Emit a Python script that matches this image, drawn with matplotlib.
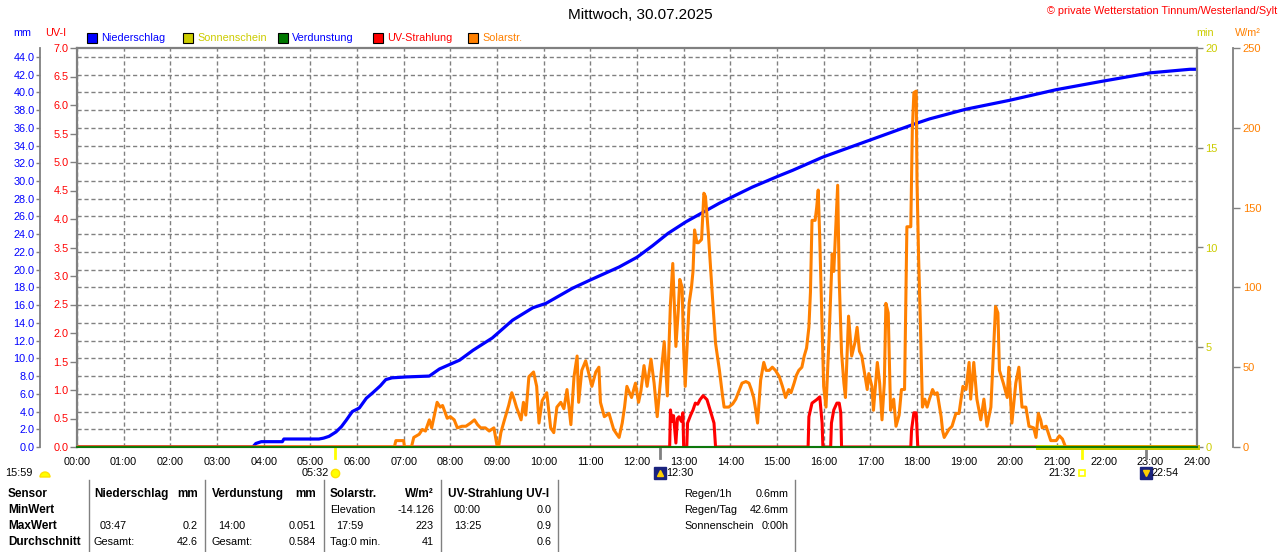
import matplotlib
matplotlib.use("Agg")
import matplotlib.pyplot as plt
import numpy as np
from matplotlib.patches import Rectangle, Wedge
from matplotlib.ticker import FormatStrFormatter

plt.rcParams['font.family'] = ['Liberation Sans', 'DejaVu Sans']
plt.rcParams['font.size'] = 7.5

# ---- data ----
rain_time = ['00:00', '03:46', '03:50', '03:57', '04:24', '04:26', '05:11', '05:17', '05:24',
             '05:33', '05:40', '05:46', '05:54', '06:03', '06:12', '06:20', '06:30', '06:37',
             '06:45', '07:03', '07:33', '07:46', '08:12', '08:29', '08:54', '09:20', '09:46',
             '10:03', '10:37', '10:59', '11:37', '12:00', '12:20', '12:40', '13:03', '13:46', '14:28',
             '15:03', '15:20', '15:59', '16:59', '17:59', '18:16', '19:03', '19:59', '20:59',
             '21:55', '23:00', '23:51', '24:00']
rain_mm = [0, 0, 0.4, 0.6, 0.6, 0.9, 0.9, 1.0, 1.2,
           1.7, 2.3, 3.0, 4.0, 4.4, 5.5, 6.1, 6.9, 7.6,
           7.8, 7.9, 8.0, 8.8, 9.8, 10.9, 12.3, 14.3, 15.7,
           16.2, 17.9, 18.8, 20.3, 21.4, 22.7, 24.1, 25.4, 27.5, 29.3,
           30.6, 31.2, 32.7, 34.6, 36.5, 37.0, 38.1, 39.1, 40.3,
           41.2, 42.2, 42.6, 42.6]

solar_time = ['00:00', '06:48', '06:50', '07:00', '07:01', '07:10', '07:13', '07:20', '07:24', '07:28',
              '07:33', '07:36', '07:43', '07:47', '07:50', '07:56', '08:00', '08:05', '08:09', '08:15',
              '08:20', '08:26', '08:31', '08:35', '08:39', '08:45', '08:50', '08:56', '09:00', '09:02',
              '09:05', '09:09', '09:15', '09:19', '09:22', '09:25', '09:31', '09:34', '09:37', '09:41',
              '09:47', '09:51', '09:54', '09:58', '10:04', '10:09', '10:13', '10:17', '10:22', '10:26',
              '10:30', '10:35', '10:39', '10:43', '10:45', '10:49', '10:54', '10:58', '11:02', '11:07',
              '11:11', '11:13', '11:18', '11:24', '11:30', '11:34', '11:37', '11:41', '11:44', '11:47',
              '11:53', '11:58', '12:02', '12:05', '12:09', '12:13', '12:18', '12:22', '12:26', '12:31',
              '12:35', '12:39', '12:43', '12:46', '12:50', '12:53', '12:55', '12:58', '13:00', '13:02',
              '13:05', '13:07', '13:10', '13:12', '13:14', '13:17', '13:19', '13:23', '13:26', '13:28',
              '13:30', '13:32', '13:37', '13:41', '13:46', '13:50', '13:52', '13:58', '14:03', '14:07',
              '14:11', '14:15', '14:20', '14:24', '14:27', '14:30', '14:33', '14:35', '14:39', '14:43',
              '14:46', '14:50', '14:54', '14:58', '15:03', '15:07', '15:11', '15:15', '15:18', '15:22',
              '15:25', '15:28', '15:32', '15:35', '15:38', '15:41', '15:43', '15:45', '15:49', '15:51',
              '15:53', '15:55', '15:57', '16:00', '16:03', '16:07', '16:09', '16:11', '16:13', '16:15',
              '16:18', '16:20', '16:23', '16:26', '16:28', '16:32', '16:36', '16:40', '16:43', '16:46',
              '16:49', '16:53', '16:56', '16:58', '17:02', '17:04', '17:09', '17:12', '17:15', '17:18',
              '17:20', '17:23', '17:26', '17:30', '17:33', '17:37', '17:40', '17:44', '17:46', '17:47',
              '17:52', '17:54', '17:56', '17:59', '18:00', '18:02', '18:04', '18:07', '18:10', '18:13',
              '18:16', '18:20', '18:23', '18:26', '18:31', '18:33', '18:35', '18:41', '18:45', '18:50',
              '18:54', '18:59', '19:03', '19:07', '19:09', '19:13', '19:17', '19:22', '19:26', '19:30',
              '19:35', '19:39', '19:41', '19:44', '19:46', '19:51', '19:56', '19:58', '20:02', '20:07',
              '20:11', '20:15', '20:20', '20:24', '20:30', '20:33', '20:36', '20:39', '20:41', '20:46',
              '20:52', '20:59', '21:03', '21:07', '21:11', '24:00']
solar_wm2 = [0, 0, 4, 4, 0, 0, 6, 8, 11, 10,
             17, 12, 28, 25, 26, 18, 19, 17, 12, 13,
             13, 15, 17, 14, 12, 12, 10, 12, 1, 0,
             9, 16, 26, 34, 30, 25, 17, 28, 20, 44,
             47, 38, 15, 29, 34, 12, 9, 25, 28, 24,
             36, 14, 44, 57, 28, 48, 54, 46, 38, 47,
             50, 28, 19, 21, 11, 8, 6, 15, 25, 38,
             31, 40, 28, 35, 51, 38, 55, 40, 19, 46,
             66, 32, 90, 115, 63, 85, 105, 100, 61, 38,
             70, 90, 100, 110, 136, 128, 128, 130, 159, 157,
             145, 132, 94, 65, 48, 32, 25, 25, 27, 30,
             35, 40, 41, 40, 36, 31, 22, 15, 42, 53,
             48, 48, 50, 48, 44, 38, 31, 36, 34, 40,
             45, 48, 50, 57, 62, 75, 97, 142, 142, 150,
             161, 130, 94, 38, 25, 69, 95, 121, 110, 132,
             164, 105, 59, 40, 31, 82, 57, 65, 75, 60,
             57, 45, 36, 46, 38, 23, 53, 40, 17, 40,
             90, 84, 23, 30, 13, 20, 36, 36, 105, 138,
             138, 199, 222, 223, 167, 120, 84, 25, 30, 25,
             30, 36, 33, 34, 19, 10, 6, 11, 13, 21,
             21, 38, 36, 53, 30, 53, 30, 17, 30, 13,
             25, 67, 88, 84, 48, 40, 31, 50, 15, 40,
             50, 25, 25, 13, 12, 6, 21, 17, 12, 13,
             4, 4, 7, 5, 0, 0]

uv_time = ['00:00', '12:42', '12:43', '12:45', '12:47', '12:50', '12:52', '12:54', '12:57', '12:59',
           '13:00', '13:04', '13:05', '13:09', '13:12', '13:15', '13:18', '13:21', '13:25', '13:30',
           '13:34', '13:39', '13:41', '15:40', '15:41', '15:45', '15:51', '15:55', '15:58', '15:59',
           '16:09', '16:10', '16:13', '16:17', '16:20', '16:22', '16:23', '17:52', '17:53', '17:56',
           '17:59', '18:01', '24:00']
uv_index = [0, 0, 0.65, 0.45, 0.55, 0.07, 0.5, 0.53, 0.45, 0.6,
            0, 0, 0.42, 0.56, 0.65, 0.77, 0.75, 0.83, 0.9, 0.83,
            0.65, 0.42, 0, 0, 0.53, 0.77, 0.83, 0.88, 0.42, 0,
            0, 0.42, 0.65, 0.77, 0.77, 0.6, 0, 0, 0.3, 0.6,
            0.6, 0, 0]

sun_time = ['20:35', '24:00']
sun_min = [0, 0]
evap_time = ['00:00', '24:00']
evap_mm = [0, 0]

hour_labels = [f'{h:02d}:00' for h in range(25)]
mm_ticks = np.arange(0, 44.1, 2)
uv_ticks = np.arange(0, 7.01, 0.5)
min_ticks = [0, 5, 10, 15, 20]
wm2_ticks = [0, 50, 100, 150, 200, 250]

sunrise, sunset = '05:32', '21:32'
moonrise, moonset = '12:30', '22:54'
day_length = '15:59'


def to_h(times):
    return [int(t[:2]) + int(t[3:]) / 60 for t in times]


BLUE = '#0000ff'
RED = '#ff0000'
ORANGE = '#ff8000'
YEL = '#cccc00'
GREEN = '#007800'
GRAY = '#808080'

W, H = 1280, 552
L, R, T, B = 77, 1197, 48, 447

fig = plt.figure(figsize=(W / 100, H / 100), dpi=100)
ax = fig.add_axes([L / W, 1 - B / H, (R - L) / W, (B - T) / H])

# base axis: rain in mm (left outer scale)
ax.set_xlim(0, 24)
ax.set_ylim(0, 45)
ax.set_xticks(range(25))
ax.set_xticklabels(hour_labels)
ax.tick_params(axis='x', length=0, pad=7, labelsize=7.8)
ax.set_yticks(mm_ticks)
ax.yaxis.set_major_formatter(FormatStrFormatter('%.1f'))
ax.tick_params(axis='y', colors=GRAY, labelcolor=BLUE, length=3, width=1, pad=1, labelsize=7.8)
ax.grid(True, color=GRAY, linestyle=(0, (3, 2)), linewidth=1)
ax.spines['left'].set_position(('axes', (40 - L) / (R - L)))
ax.spines['left'].set_color(GRAY)
ax.spines['left'].set_linewidth(1.3)
ax.spines['right'].set_visible(False)
for s in ['top', 'bottom']:
    ax.spines[s].set_color(GRAY)
    ax.spines[s].set_linewidth(1.6)
ax.plot(to_h(rain_time), rain_mm, color=BLUE, lw=2.3, zorder=3)

# UV index on frame left
ax_uv = ax.twinx()
ax_uv.yaxis.tick_left()
ax_uv.set_ylim(0, 7)
ax_uv.set_yticks(uv_ticks)
ax_uv.yaxis.set_major_formatter(FormatStrFormatter('%.1f'))
ax_uv.tick_params(axis='y', colors=GRAY, labelcolor=RED, length=5, width=1, pad=1, labelsize=7.8)
for s in ['top', 'bottom', 'right']:
    ax_uv.spines[s].set_visible(False)
ax_uv.spines['left'].set_color(GRAY)
ax_uv.spines['left'].set_linewidth(1.6)
ax_uv.plot(to_h(uv_time), uv_index, color=RED, lw=2.2)

# sunshine minutes on frame right
ax_min = ax.twinx()
ax_min.set_ylim(0, 20)
ax_min.set_yticks(min_ticks)
ax_min.tick_params(axis='y', colors=GRAY, labelcolor=YEL, length=4, width=1, pad=2, labelsize=8)
for s in ['top', 'bottom', 'left']:
    ax_min.spines[s].set_visible(False)
ax_min.spines['right'].set_color(GRAY)
ax_min.spines['right'].set_linewidth(1.6)
ax_min.plot(to_h(sun_time), sun_min, color=YEL, lw=3.6, clip_on=False)

# solar radiation, outer right scale
ax_w = ax.twinx()
ax_w.set_ylim(0, 250)
ax_w.set_yticks(wm2_ticks)
ax_w.spines['right'].set_position(('axes', (1233 - L) / (R - L)))
ax_w.tick_params(axis='y', colors=GRAY, labelcolor=ORANGE, length=5, width=1, pad=2, labelsize=8)
for s in ['top', 'bottom', 'left']:
    ax_w.spines[s].set_visible(False)
ax_w.spines['right'].set_color(GRAY)
ax_w.spines['right'].set_linewidth(1.3)
ax_w.plot(to_h(solar_time), solar_wm2, color=ORANGE, lw=2.2)

# evaporation
ax_ev = ax.twinx()
ax_ev.set_ylim(0, 45)
ax_ev.axis('off')
ax_ev.plot(to_h(evap_time), evap_mm, color=GREEN, lw=1.3, clip_on=False)

# sun / moon markers below the time axis
tr = ax.get_xaxis_transform()
below = -(473 - B) / (B - T)
tick_end = -(458 - B) / (B - T)
for t, c in [(sunrise, '#ffff00'), (sunset, '#ffff00'), (moonrise, GRAY), (moonset, GRAY)]:
    h = to_h([t])[0]
    ax.plot([h, h], [0, tick_end], color=c, lw=2, transform=tr, clip_on=False)

h = to_h([sunrise])[0]
ax.plot([h], [below], marker='o', ms=6, color='#ffff00', mec='#ffe000', transform=tr, clip_on=False)
ax.annotate(sunrise, xy=(h, below), xycoords=tr, xytext=(-6, 0), textcoords='offset pixels',
            ha='right', va='center', fontsize=7.8)
h = to_h([sunset])[0]
ax.plot([h], [below], marker='s', ms=5, mfc='white', mec='#ffff00', mew=1.2, transform=tr, clip_on=False)
ax.annotate(sunset, xy=(h, below), xycoords=tr, xytext=(-6, 0), textcoords='offset pixels',
            ha='right', va='center', fontsize=7.8)
for t, m in [(moonrise, '^'), (moonset, 'v')]:
    h = to_h([t])[0]
    ax.plot([h], [below], marker='s', ms=8, color='#1a237e', transform=tr, clip_on=False)
    ax.plot([h], [below], marker=m, ms=4, color='#ffd000', transform=tr, clip_on=False)
    ax.annotate(t, xy=(h, below), xycoords=tr, xytext=(6, 0), textcoords='offset pixels',
                ha='left', va='center', fontsize=7.8)

# overlay in pixel coordinates for header, legend and table
ov = fig.add_axes([0, 0, 1, 1])
ov.set_xlim(0, W)
ov.set_ylim(H, 0)
ov.axis('off')

ov.text(640, 15, 'Mittwoch, 30.07.2025', ha='center', va='center', fontsize=11)
ov.text(1277, 11, '© private Wetterstation Tinnum/Westerland/Sylt', ha='right', va='center',
        color=RED, fontsize=7.8)
ov.text(22, 33, 'mm', ha='center', va='center', color=BLUE, fontsize=7.8)
ov.text(56, 33, 'UV-I', ha='center', va='center', color=RED, fontsize=7.8)
ov.text(1205, 33, 'min', ha='center', va='center', color=YEL, fontsize=7.8)
ov.text(1248, 33, 'W/m²', ha='center', va='center', color=ORANGE, fontsize=7.8)

legend = [('Niederschlag', BLUE, BLUE, 87), ('Sonnenschein', YEL, YEL, 183),
          ('Verdunstung', GREEN, BLUE, 278), ('UV-Strahlung', RED, RED, 373),
          ('Solarstr.', ORANGE, ORANGE, 468)]
for name, fc, tc, x in legend:
    ov.add_patch(Rectangle((x, 33), 10, 10, facecolor=fc, edgecolor='black', lw=0.8))
    ov.text(x + 14, 38, name, ha='left', va='center', color=tc, fontsize=7.8)

ov.text(5, 473, day_length, ha='left', va='center', fontsize=7.8)
ov.add_patch(Wedge((45, 477), 5, 180, 360, facecolor='#ffff00', edgecolor='#ffe000'))

# table
rows = [494, 510, 526, 542]
for x in [89, 205, 324, 441, 558, 795]:
    ov.plot([x, x], [480, H], color=GRAY, lw=1)

bold = dict(fontweight='bold', fontsize=8.5, va='center')
norm = dict(va='center', fontsize=7.8)
for y, s in zip(rows, ['Sensor', 'MinWert', 'MaxWert', 'Durchschnitt']):
    ov.text(8, y, s, ha='left', **bold)

blocks = [
    (94, 198, 'Niederschlag', 'mm', [None, ('03:47', '0.2'), ('Gesamt:', '42.6')]),
    (212, 316, 'Verdunstung', 'mm', [None, ('14:00', '0.051'), ('Gesamt:', '0.584')]),
    (330, 434, 'Solarstr.', 'W/m²', [('Elevation', '-14.126'), ('17:59', '223'), ('Tag:0 min.', '41')]),
    (448, 552, 'UV-Strahlung UV-I', None, [('00:00', '0.0'), ('13:25', '0.9'), ('', '0.6')]),
]
for x0, x1, head, unit, vals in blocks:
    ov.text(x0, rows[0], head, ha='left', **bold)
    if unit:
        ov.text(x1, rows[0], unit, ha='right', **bold)
    for y, v in zip(rows[1:], vals):
        if v is None:
            continue
        lab, num = v
        dx = 6 if ':' in lab and not lab.endswith(':') and not lab.startswith('Tag') else 0
        ov.text(x0 + dx, y, lab, ha='left', **norm)
        ov.text(x1, y, num, ha='right', **norm)

extra = [('Regen/1h', '0.6mm'), ('Regen/Tag', '42.6mm'), ('Sonnenschein', '0:00h')]
for y, (lab, val) in zip(rows, extra):
    ov.text(684, y, lab, ha='left', **norm)
    ov.text(789, y, val, ha='right', **norm)

fig.savefig('out.png', dpi=100)
